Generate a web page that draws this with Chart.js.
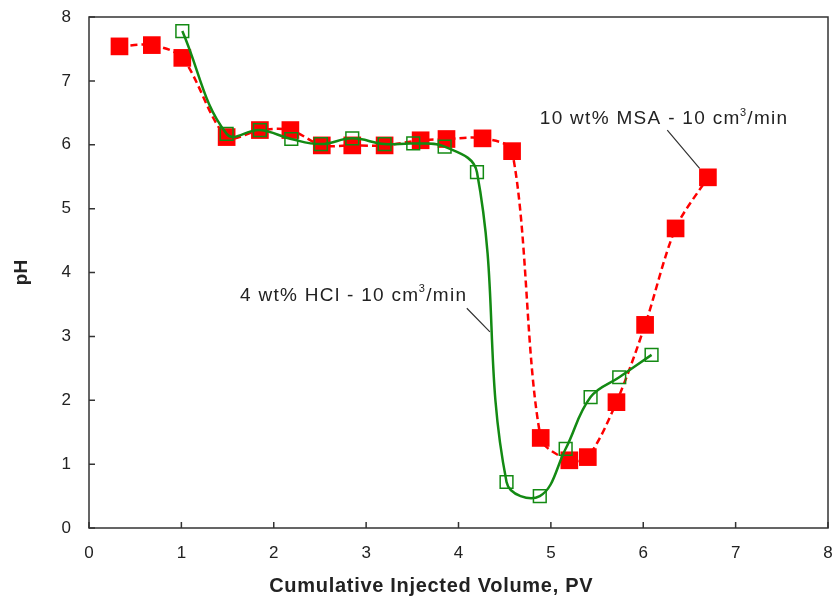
<!DOCTYPE html>
<html>
<head>
<meta charset="utf-8">
<script src="https://cdn.jsdelivr.net/npm/chart.js@4.4.1/dist/chart.umd.min.js"></script>
<style>
  html, body { margin: 0; padding: 0; background: #fff; overflow: hidden; }
  canvas { display: block; }
</style>
</head>
<body>
<canvas id="c" width="836" height="601"></canvas>
<script>
// ---- Data ----
const msaLabel = "10 wt% MSA - 10 cm³/min";
const hclLabel = "4 wt% HCl - 10 cm³/min";
const xTitle = "Cumulative Injected Volume, PV";
const yTitle = "pH";

const msaX = [0.33, 0.68, 1.01, 1.49, 1.85, 2.18, 2.52, 2.85, 3.20, 3.59, 3.87, 4.26, 4.58, 4.89, 5.20, 5.40, 5.71, 6.02, 6.35, 6.70];
const msaY = [7.54, 7.56, 7.36, 6.12, 6.23, 6.23, 5.99, 5.99, 5.99, 6.07, 6.09, 6.10, 5.90, 1.41, 1.06, 1.11, 1.97, 3.18, 4.69, 5.49];

const hclX = [1.01, 1.49, 1.85, 2.19, 2.51, 2.85, 3.20, 3.51, 3.85, 4.20, 4.52, 4.88, 5.16, 5.43, 5.74, 6.09];
const hclY = [7.78, 6.17, 6.23, 6.09, 6.01, 6.10, 6.01, 6.02, 5.97, 5.57, 0.72, 0.50, 1.24, 2.05, 2.36, 2.71];

const xTicks = [0, 1, 2, 3, 4, 5, 6, 7, 8];
const yTicks = [0, 1, 2, 3, 4, 5, 6, 7, 8];

// annotation anchors in data units: [textX, textY, lineX1, lineY1, lineX2, lineY2]
const msaNote = [4.88, 6.40, 6.26, 6.23, 6.61, 5.63];
const hclNote = [1.635, 3.64, 4.09, 3.44, 4.34, 3.07];
// x-axis title centre, in data units along x
const xTitleAt = 3.705;

const toPts = (xs, ys) => xs.map((x, i) => ({ x: x, y: ys[i] }));

const FONT = "'Liberation Sans', Arial, Helvetica, sans-serif";
const TEXT = '#222';

function drawSupText(ctx, str, x, y, size, spacing) {
  const parts = str.split('³');
  ctx.textBaseline = 'middle';
  ctx.textAlign = 'left';
  ctx.letterSpacing = spacing + 'px';
  let cx = x;
  ctx.font = size + 'px ' + FONT;
  ctx.fillText(parts[0], cx, y);
  cx += ctx.measureText(parts[0]).width;
  if (parts.length > 1) {
    const s = Math.round(size * 0.6);
    ctx.font = s + 'px ' + FONT;
    ctx.fillText('3', cx - spacing * 0.5, y - size * 0.33);
    cx += ctx.measureText('3').width - spacing * 0.5;
    ctx.font = size + 'px ' + FONT;
    ctx.fillText(parts[1], cx, y);
  }
  ctx.letterSpacing = '0px';
}

const framePlugin = {
  id: 'frame',
  beforeDatasetsDraw(chart) {
    const { ctx, chartArea: a, scales } = chart;
    ctx.save();
    ctx.strokeStyle = '#333';
    ctx.lineWidth = 1.5;
    ctx.strokeRect(a.left, a.top, a.right - a.left, a.bottom - a.top);
    ctx.beginPath();
    xTicks.forEach(v => {
      const px = scales.x.getPixelForValue(v);
      ctx.moveTo(px, a.bottom);
      ctx.lineTo(px, a.bottom - 6);
    });
    yTicks.forEach(v => {
      const py = scales.y.getPixelForValue(v);
      ctx.moveTo(a.left, py);
      ctx.lineTo(a.left + 6, py);
    });
    ctx.stroke();
    // x-axis title
    ctx.fillStyle = TEXT;
    ctx.font = 'bold 20px ' + FONT;
    ctx.letterSpacing = '0.7px';
    ctx.textAlign = 'center';
    ctx.textBaseline = 'middle';
    ctx.fillText(xTitle, scales.x.getPixelForValue(xTitleAt), a.bottom + 58);
    ctx.letterSpacing = '0px';
    ctx.restore();
  },
  afterDatasetsDraw(chart) {
    const { ctx, scales } = chart;
    const X = v => scales.x.getPixelForValue(v);
    const Y = v => scales.y.getPixelForValue(v);
    ctx.save();
    ctx.fillStyle = TEXT;
    drawSupText(ctx, msaLabel, X(msaNote[0]), Y(msaNote[1]), 19, 1.3);
    drawSupText(ctx, hclLabel, X(hclNote[0]), Y(hclNote[1]), 19, 1.3);
    ctx.strokeStyle = '#333';
    ctx.lineWidth = 1.2;
    ctx.beginPath();
    ctx.moveTo(X(msaNote[2]), Y(msaNote[3]));
    ctx.lineTo(X(msaNote[4]), Y(msaNote[5]));
    ctx.moveTo(X(hclNote[2]), Y(hclNote[3]));
    ctx.lineTo(X(hclNote[4]), Y(hclNote[5]));
    ctx.stroke();
    ctx.restore();
  }
};

new Chart(document.getElementById('c'), {
  type: 'scatter',
  data: {
    datasets: [
      {
        label: msaLabel,
        data: toPts(msaX, msaY),
        showLine: true,
        borderColor: '#ff0000',
        borderWidth: 2.5,
        borderDash: [7, 4],
        tension: 0.3,
        pointStyle: 'rect',
        pointRadius: 12.5,
        pointBackgroundColor: '#ff0000',
        pointBorderColor: '#ff0000',
        pointBorderWidth: 0,
        order: 2
      },
      {
        label: hclLabel,
        data: toPts(hclX, hclY),
        showLine: true,
        borderColor: '#138a13',
        borderWidth: 2.5,
        tension: 0.4,
        pointStyle: 'rect',
        pointRadius: 9,
        pointBackgroundColor: 'rgba(255,255,255,0)',
        pointBorderColor: '#138a13',
        pointBorderWidth: 1.5,
        order: 1
      }
    ]
  },
  options: {
    responsive: false,
    animation: false,
    devicePixelRatio: 1,
    layout: { autoPadding: false, padding: { top: 17, right: 8, bottom: 0, left: 0 } },
    plugins: {
      legend: { display: false },
      tooltip: { enabled: false }
    },
    scales: {
      x: {
        type: 'linear',
        min: 0, max: 8,
        afterBuildTicks(s) { s.ticks = xTicks.map(v => ({ value: v })); },
        afterFit(s) { s.height = 73; s.paddingLeft = 0; s.paddingRight = 0; },
        ticks: { padding: 15, color: TEXT, font: { family: FONT, size: 17 } },
        grid: { display: false, drawTicks: false },
        border: { display: false },
        title: { display: false }
      },
      y: {
        type: 'linear',
        min: 0, max: 8,
        afterBuildTicks(s) { s.ticks = yTicks.map(v => ({ value: v })); },
        afterFit(s) { s.width = 89; s.paddingTop = 0; s.paddingBottom = 0; },
        ticks: { padding: 18, color: TEXT, font: { family: FONT, size: 17 } },
        grid: { display: false, drawTicks: false },
        border: { display: false },
        title: {
          display: true,
          text: yTitle,
          color: TEXT,
          font: { family: FONT, size: 19, weight: 'bold' },
          padding: { top: 10, bottom: 0 }
        }
      }
    }
  },
  plugins: [framePlugin]
});
</script>
</body>
</html>
